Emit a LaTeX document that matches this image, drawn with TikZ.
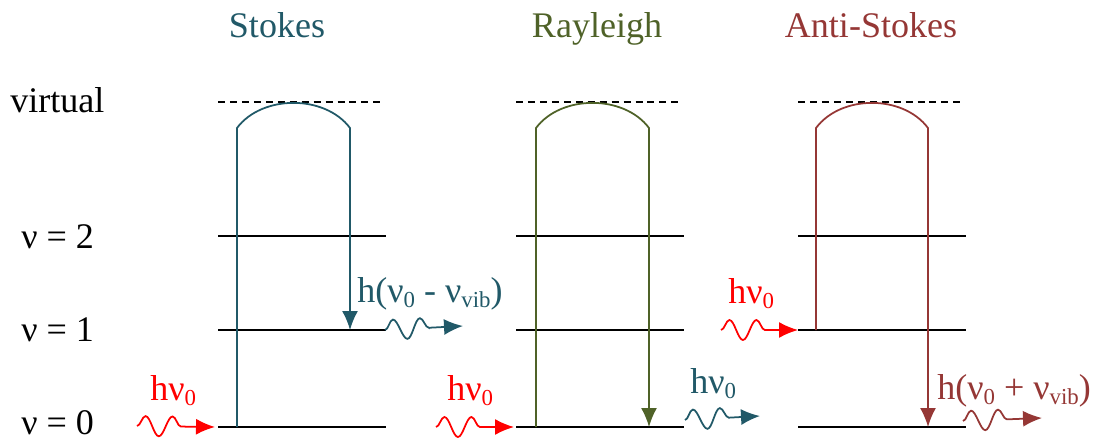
\documentclass[tikz,border=0pt]{standalone}
\usepackage{fontspec}
\setmainfont{Liberation Serif}
\usetikzlibrary{arrows.meta,decorations.pathmorphing}

\newcommand{\lowtxt}[1]{\raisebox{-0.35ex}{\fontsize{13}{13}\selectfont #1}}

\begin{document}
\begin{tikzpicture}[
  font=\fontsize{20.5}{22}\selectfont,
  level/.style={black, line width=1pt},
  virt/.style={black, line width=0.8pt, dash pattern=on 4pt off 2.8pt},
  trans/.style={line width=1pt, -{Latex[length=3.8mm,width=3.2mm]}},
  photon/.style={line width=1pt, -{Latex[length=3.8mm,width=3.2mm]}, decorate,
    decoration={snake, amplitude=2mm, segment length=5.4mm, post length=5mm}},
  lbl/.style={anchor=base west, inner sep=0pt}
]
\definecolor{StokesCol}{RGB}{33,89,104}
\definecolor{RayCol}{RGB}{79,98,40}
\definecolor{AntiCol}{RGB}{149,55,53}
\useasboundingbox (0,0) rectangle (22,8.82);

% ======================= Niveaus links =======================
\node[lbl] (lvirt) at (0.2,6.58) {virtual};
\node[lbl] (lv2) at (0.42,3.86) {ν = 2};
\node[lbl] (lv1) at (0.42,2.0) {ν = 1};
\node[lbl] (lv0) at (0.42,0.14) {ν = 0};

% ======================= PANEL 1: STOKES =======================
\begin{scope}
  \node[anchor=base, StokesCol] (tstokes) at (5.54,8.08) {Stokes};
  \draw[virt] (4.36,6.78) -- (7.6,6.78);
  \draw[level] (4.36,4.10) -- (7.72,4.10);
  \draw[level] (4.36,2.22) -- (7.72,2.22);
  \draw[level] (4.36,0.28) -- (7.72,0.28);

  % Anregung und Rueckfall nach v=1
  \draw[trans, StokesCol] (4.74,0.28) -- (4.74,6.26)
    .. controls (5.24,6.93) and (6.5,6.93) .. (7.0,6.26) -- (7.0,2.22);

  % Photonen
  \draw[photon, red] (2.74,0.30) -- (4.30,0.28);
  \node[lbl, red] (sin) at (3.0,0.82) {hν\lowtxt{0}};
  \draw[photon, StokesCol] (7.70,2.22) -- (9.26,2.30);
  \node[lbl, StokesCol] (sout) at (7.14,2.78) {h(ν\lowtxt{0} - ν\lowtxt{vib})};
\end{scope}

% ======================= PANEL 2: RAYLEIGH =======================
\begin{scope}[xshift=5.96cm]
  \node[anchor=base, RayCol] (tray) at (5.98,8.08) {Rayleigh};
  \draw[virt] (4.36,6.78) -- (7.64,6.78);
  \draw[level] (4.36,4.10) -- (7.72,4.10);
  \draw[level] (4.36,2.22) -- (7.72,2.22);
  \draw[level] (4.36,0.28) -- (7.72,0.28);

  % Anregung und Rueckfall nach v=0
  \draw[trans, RayCol] (4.76,0.28) -- (4.76,6.26)
    .. controls (5.26,6.93) and (6.52,6.93) .. (7.02,6.26) -- (7.02,0.28);

  % Photonen
  \draw[photon, red] (2.76,0.28) -- (4.32,0.28);
  \node[lbl, red] (rin) at (2.98,0.82) {hν\lowtxt{0}};
  \draw[photon, StokesCol] (7.74,0.42) -- (9.24,0.50);
  \node[lbl, StokesCol] (rout) at (7.84,0.96) {hν\lowtxt{0}};
\end{scope}

% ======================= PANEL 3: ANTI-STOKES =======================
\begin{scope}[xshift=11.6cm]
  \node[anchor=base, AntiCol] (tanti) at (5.82,8.08) {Anti-Stokes};
  \draw[virt] (4.36,6.78) -- (7.6,6.78);
  \draw[level] (4.36,4.10) -- (7.72,4.10);
  \draw[level] (4.36,2.22) -- (7.72,2.22);
  \draw[level] (4.36,0.28) -- (7.72,0.28);

  % Anregung aus v=1 und Rueckfall nach v=0
  \draw[trans, AntiCol] (4.72,2.22) -- (4.72,6.26)
    .. controls (5.22,6.93) and (6.46,6.93) .. (6.96,6.26) -- (6.96,0.28);

  % Photonen
  \draw[photon, red] (2.82,2.22) -- (4.36,2.22);
  \node[lbl, red] (ain) at (2.96,2.76) {hν\lowtxt{0}};
  \draw[photon, AntiCol] (7.66,0.40) -- (9.24,0.46);
  \node[lbl, AntiCol] (aout) at (7.14,0.84) {h(ν\lowtxt{0} + ν\lowtxt{vib})};
\end{scope}

\end{tikzpicture}
\end{document}
